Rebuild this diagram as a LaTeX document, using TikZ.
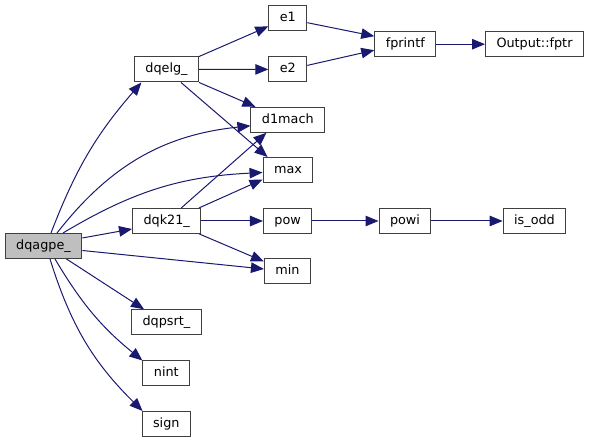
\documentclass[tikz,border=0pt]{standalone}
\usepackage{fontspec}
\setmainfont{DejaVu Sans}
\usetikzlibrary{arrows.meta,positioning}
\definecolor{edgeblue}{HTML}{191970}
\tikzset{
    func/.style={
        rectangle,
        draw=black!75,
        line width=1pt,
        fill=white,
        minimum height=25pt,
        inner xsep=11pt,
        text height=9.6pt,
        text depth=2.6pt,
        font=\fontsize{12.8}{15}\selectfont,
    },
    rootfunc/.style={
        func,
        fill=black!25,
    },
    call/.style={
        draw=edgeblue,
        line width=1pt,
    },
}

\begin{document}
\begin{tikzpicture}[x=1pt,y=-1pt,node distance=121pt,>={Triangle[length=13pt,width=10.5pt]},every edge/.style={call,draw=edgeblue}]
    \useasboundingbox (0,0) rectangle (589,443);
    \node [rootfunc] (dqagpe) at (43.5,246) {dqagpe\_};
    \node [func] (dqelg) at (166.5,69.5) {dqelg\_};
    \node [func] (e1) at (287.8,18.4) {e1};
    \node [func] (e2) at (287.8,69.4) {e2};
    \node [func] (fprintf) at (405.3,44.2) {fprintf};
    \node [func] (fptr) at (534.5,44.2) {Output::fptr};
    \node [func] (d1mach) at (287.8,119.8) {d1mach};
    \node [func] (max) at (288,170) {max};
    \node [func] (dqk21) at (166.7,221) {dqk21\_};
    \node [func] (pow) [right of=dqk21] {pow};
    \node [func] (powi) at (405,221) {powi};
    \node [func] (isodd) at (534.5,221) {is\_odd};
    \node [func] (min) at (287.5,271.5) {min};
    \node [func] (dqpsrt) at (166.4,322.3) {dqpsrt\_};
    \node [func] (nint) at (166.3,373.5) {nint};
    \node [func] (sign) at (166.3,424) {sign};
    % calls from dqagpe_
    \path[->] ([xshift=7.5pt]dqagpe.north) edge [bend left=10] ([xshift=7.5pt]dqelg.south west);
    \path[->] ([xshift=13.5pt]dqagpe.north) edge [bend left=23] ([yshift=-6pt]d1mach.west);
    \path[->] ([xshift=19.5pt]dqagpe.north) edge [bend left=14] ([yshift=-2.5pt]max.west);
    \path[->] ([yshift=8pt]dqagpe.east) edge ([yshift=-8pt]dqk21.west);
    \path[->] ([yshift=-4.5pt]dqagpe.east) edge ([yshift=2.5pt]min.west);
    \path[->] ([xshift=23pt]dqagpe.south) edge ([xshift=13pt]dqpsrt.north west);
    \path[->] ([xshift=11.5pt]dqagpe.south) edge [bend right=10] (nint.north west);
    \path[->] ([xshift=6.5pt]dqagpe.south) edge [bend right=14] ([xshift=1pt]sign.north west);
    % calls from dqelg_
    \path[->] (dqelg.north east) edge ([yshift=-8pt]e1.west);
    \path[->] (dqelg) edge (e2);
    \path[->] (dqelg.south east) edge ([xshift=5pt]d1mach.north west);
    \path[->] ([xshift=14.5pt]dqelg.south) edge ([xshift=5pt]max.north west);
    % calls from dqk21_
    \path[->] ([xshift=14.5pt]dqk21.north) edge ([xshift=16pt]d1mach.south west);
    \path[->] ([xshift=-2.5pt]dqk21.north east) edge ([yshift=-9.5pt]max.west);
    \path[->] (dqk21) edge (pow);
    \path[->] ([xshift=-2pt]dqk21.south east) edge ([yshift=-3pt]min.north west);
    % the rest
    \path[->] ([yshift=-4.3pt]e1.east) edge ([yshift=8pt]fprintf.west);
    \path[->] ([yshift=4pt]e2.east) edge ([yshift=-6pt]fprintf.west);
    \path[->] (fprintf) edge (fptr);
    \path[->] (pow) edge (powi);
    \path[->] (powi) edge (isodd);
\end{tikzpicture}
\end{document}
